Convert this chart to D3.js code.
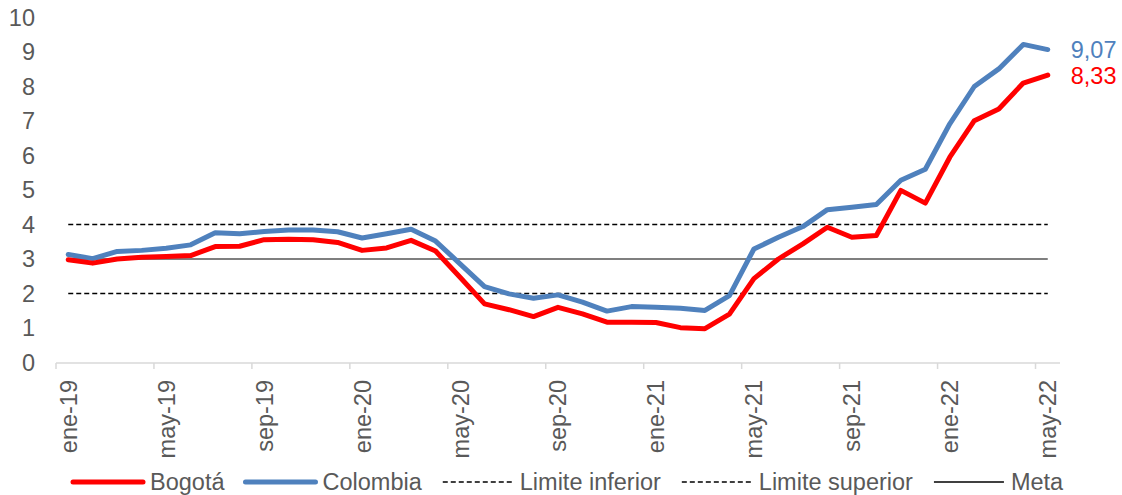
<!DOCTYPE html>
<html>
<head>
<meta charset="utf-8">
<script src="https://cdn.jsdelivr.net/npm/d3@7"></script>
<style>
	body { margin: 0; background: #fff; }
	svg { display: block; font-family: "Liberation Sans", Arial, sans-serif; }
</style>
</head>
<body>
<svg id="chart" width="1122" height="495"></svg>
<script>
// monthly series, ene-19 .. may-22
var months = ["ene-19","feb-19","mar-19","abr-19","may-19","jun-19","jul-19","ago-19","sep-19","oct-19","nov-19","dic-19",
	"ene-20","feb-20","mar-20","abr-20","may-20","jun-20","jul-20","ago-20","sep-20","oct-20","nov-20","dic-20",
	"ene-21","feb-21","mar-21","abr-21","may-21","jun-21","jul-21","ago-21","sep-21","oct-21","nov-21","dic-21",
	"ene-22","feb-22","mar-22","abr-22","may-22"];

var bogota = [2.98, 2.88, 3.00, 3.05, 3.07, 3.10, 3.36, 3.37, 3.56, 3.57, 3.56, 3.48,
	3.25, 3.32, 3.54, 3.23, 2.47, 1.70, 1.53, 1.33, 1.60, 1.41, 1.17, 1.17,
	1.16, 1.01, 0.98, 1.40, 2.43, 3.00, 3.44, 3.92, 3.63, 3.68, 4.99, 4.62,
	5.95, 7.01, 7.35, 8.10, 8.33];

var colombia = [3.13, 3.01, 3.22, 3.25, 3.31, 3.41, 3.76, 3.73, 3.80, 3.84, 3.84, 3.79,
	3.61, 3.73, 3.86, 3.52, 2.86, 2.20, 1.99, 1.86, 1.96, 1.75, 1.49, 1.62,
	1.60, 1.57, 1.51, 1.94, 3.29, 3.63, 3.94, 4.43, 4.50, 4.58, 5.28, 5.60,
	6.92, 8.00, 8.51, 9.22, 9.07];

var limiteInferior = 2, limiteSuperior = 4, meta = 3;
var yTicks = [0,1,2,3,4,5,6,7,8,9,10];
var xTickLabels = ["ene-19","may-19","sep-19","ene-20","may-20","sep-20","ene-21","may-21","sep-21","ene-22","may-22"];
var endLabels = ["9,07", "8,33"];

var svg = d3.select("#chart")
	, textColor = "#595959"
	, fontSize = "23.5px";

var x = d3.scaleBand().domain(months).range([56, 1060]).padding(0);
var y = d3.scaleLinear().domain([0, 10]).range([362.5, 17.5]);
var cx = function(m) { return x(m) + x.bandwidth() / 2; };

// --- Y LABELS --- \\
svg.append("g").selectAll("text").data(yTicks).enter().append("text")
	.attr("x", 35)
	.attr("y", function(d) { return y(d); })
	.attr("dy", "0.36em")
	.attr("text-anchor", "end")
	.attr("fill", textColor)
	.style("font-size", fontSize)
	.text(function(d) { return d; });

// --- REFERENCE LINES --- \\
var x0 = cx(months[0]), x1 = cx(months[months.length - 1]);
[[limiteInferior, "5,3"], [limiteSuperior, "5,3"], [meta, null]].forEach(function(r) {
	svg.append("line")
		.attr("x1", x0).attr("x2", x1)
		.attr("y1", y(r[0])).attr("y2", y(r[0]))
		.attr("stroke", "#000")
		.attr("stroke-width", r[1] ? 1.3 : 1.1)
		.attr("stroke-dasharray", r[1]);
});

// --- X AXIS --- \\
svg.append("line")
	.attr("x1", 56).attr("x2", 1060)
	.attr("y1", 363).attr("y2", 363)
	.attr("stroke", "#d9d9d9").attr("stroke-width", 1.5);

var tickMonths = months.filter(function(m, i) { return i % 4 === 0; });
svg.append("g").selectAll("line").data(tickMonths).enter().append("line")
	.attr("x1", function(d) { return x(d); }).attr("x2", function(d) { return x(d); })
	.attr("y1", 363).attr("y2", 369)
	.attr("stroke", "#d9d9d9").attr("stroke-width", 1.5);

svg.append("g").selectAll("text").data(xTickLabels).enter().append("text")
	.attr("transform", function(d) { return "translate(" + cx(d) + ",380) rotate(-90)"; })
	.attr("dy", "0.36em")
	.attr("text-anchor", "end")
	.attr("fill", textColor)
	.style("font-size", fontSize)
	.text(function(d) { return d; });

// --- SERIES --- \\
var line = d3.line()
	.x(function(d, i) { return cx(months[i]); })
	.y(function(d) { return y(d); });

var series = [
	{ name: "Bogotá", values: bogota, color: "#ff0000", label: endLabels[1] },
	{ name: "Colombia", values: colombia, color: "#4f81bd", label: endLabels[0] }
];

svg.append("g").selectAll("path").data(series.slice().reverse()).enter().append("path")
	.attr("d", function(d) { return line(d.values); })
	.attr("fill", "none")
	.attr("stroke", function(d) { return d.color; })
	.attr("stroke-width", 5)
	.attr("stroke-linejoin", "round")
	.attr("stroke-linecap", "round");

svg.append("g").selectAll("text").data(series).enter().append("text")
	.attr("x", x1 + 23)
	.attr("y", function(d) { return y(d.values[d.values.length - 1]); })
	.attr("dy", "0.36em")
	.attr("fill", function(d) { return d.color; })
	.style("font-size", fontSize)
	.text(function(d) { return d.label; });

// --- LEGEND --- \\
var legendItems = [
	{ name: "Bogotá", color: "#ff0000", width: 5, dash: null },
	{ name: "Colombia", color: "#4f81bd", width: 5, dash: null },
	{ name: "Limite inferior", color: "#000", width: 1.3, dash: "5,3" },
	{ name: "Limite superior", color: "#000", width: 1.3, dash: "5,3" },
	{ name: "Meta", color: "#000", width: 1.3, dash: null }
];

var legendY = 482, lx = 73;
legendItems.forEach(function(item) {
	svg.append("line")
		.attr("x1", lx).attr("x2", lx + 70)
		.attr("y1", legendY).attr("y2", legendY)
		.attr("stroke", item.color)
		.attr("stroke-width", item.width)
		.attr("stroke-linecap", item.width > 2 ? "round" : "butt")
		.attr("stroke-dasharray", item.dash);
	var t = svg.append("text")
		.attr("x", lx + 77)
		.attr("y", legendY)
		.attr("dy", "0.36em")
		.attr("fill", textColor)
		.style("font-size", fontSize)
		.text(item.name);
	lx = lx + 77 + t.node().getComputedTextLength() + 21;
});
</script>
</body>
</html>
